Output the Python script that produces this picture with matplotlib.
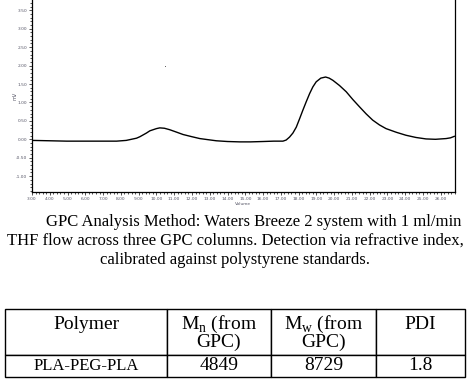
import matplotlib.pyplot as plt
from matplotlib.ticker import MultipleLocator, FormatStrFormatter

# chromatogram (minutes vs mV)
time = [3.0, 4.0, 4.95, 6.0, 7.0, 7.76, 8.3, 8.88, 9.07, 9.44, 9.63, 10.0, 10.19,
        10.45, 10.75, 11.1, 11.5, 12.0, 12.44, 12.9, 13.37, 14.0, 14.69, 15.3, 16.0,
        16.6, 17.12, 17.3, 17.49, 17.68, 17.87, 18.05, 18.24, 18.43, 18.62, 18.8,
        18.99, 19.25, 19.52, 19.72, 19.93, 20.3, 20.68, 21.05, 21.43, 21.8, 22.17,
        22.55, 22.92, 23.5, 24.04, 24.6, 25.17, 25.7, 26.3, 26.55, 26.76]
signal = [-0.03, -0.04, -0.05, -0.05, -0.05, -0.05, -0.03, 0.03, 0.07, 0.17, 0.23, 0.29, 0.31,
          0.30, 0.26, 0.2, 0.13, 0.07, 0.02, -0.01, -0.04, -0.06, -0.07, -0.07, -0.06,
          -0.05, -0.05, -0.02, 0.06, 0.17, 0.33, 0.55, 0.79, 1.02, 1.24, 1.42,
          1.56, 1.66, 1.69, 1.66, 1.60, 1.46, 1.29, 1.08, 0.88, 0.69, 0.52,
          0.39, 0.29, 0.19, 0.11, 0.05, 0.01, 0.0, 0.02, 0.04, 0.08]
stray_x = [10.5]
stray_y = [1.98]

caption = ["GPC Analysis Method: Waters Breeze 2 system with 1 ml/min",
           "THF flow across three GPC columns. Detection via refractive index,",
           "calibrated against polystyrene standards."]

col_labels = ["Polymer\n ", "M$_\\mathregular{n}$ (from\nGPC)", "M$_\\mathregular{w}$ (from\nGPC)", "PDI\n "]
polymer = "PLA-PEG-PLA"
mn = "4849"
mw = "8729"
pdi = "1.8"

plt.rcParams['mathtext.fontset'] = 'custom'
plt.rcParams['mathtext.rm'] = 'Liberation Serif'

fig = plt.figure(figsize=(4.7, 3.83), dpi=100)

# chart
ax = fig.add_axes([32/470, 1 - 192/383, (455-32)/470, 192/383])
ax.plot(time, signal, color='black', linewidth=1.0)
ax.plot(stray_x, stray_y, 's', color='#555555', markersize=0.6, markeredgewidth=0)
ax.set_xlim(3.0, 26.8)
ax.set_ylim(-1.43, 3.78)
ax.xaxis.set_major_locator(MultipleLocator(1.0))
ax.xaxis.set_minor_locator(MultipleLocator(0.2))
ax.yaxis.set_major_locator(MultipleLocator(0.5))
ax.yaxis.set_minor_locator(MultipleLocator(0.1))
ax.xaxis.set_major_formatter(FormatStrFormatter('%.2f'))
ax.yaxis.set_major_formatter(FormatStrFormatter('%.2f'))
ax.tick_params(which='both', direction='out', labelsize=3.2, labelcolor='#555566',
               width=0.6, color='#333333', pad=1)
ax.tick_params(which='major', length=2.5)
ax.tick_params(which='minor', length=1.5)
ax.spines['top'].set_visible(False)
for s in ['left', 'bottom', 'right']:
    ax.spines[s].set_linewidth(0.9)
ax.set_xlabel('Volume', fontsize=3.2, color='#555566', labelpad=1)
ax.set_ylabel('mV', fontsize=3.5, color='#555566', labelpad=-1)

# caption
serif = 'Liberation Serif'
fig.text(461/470, 1 - 222/383, caption[0], ha='right', va='center', fontsize=12, family=serif)
fig.text(235/470, 1 - 241/383, caption[1], ha='center', va='center', fontsize=12, family=serif)
fig.text(235/470, 1 - 260/383, caption[2], ha='center', va='center', fontsize=12, family=serif)

# table
tax = fig.add_axes([5/470, 1 - 377/383, 460/470, (377-309)/383])
tax.axis('off')
tbl = tax.table(cellText=[[polymer, mn, mw, pdi]], colLabels=col_labels,
                cellLoc='center', bbox=[0, 0, 1, 1])
tbl.auto_set_font_size(False)
widths = [162, 104, 105, 89]
for (r, c), cell in tbl.get_celld().items():
    cell.set_width(widths[c])
    cell.set_height(46 if r == 0 else 22)
    cell.set_linewidth(1.0)
    txt = cell.get_text()
    txt.set_family(serif)
    if r == 0:
        txt.set_fontsize(14)
        txt.set_linespacing(0.9)
    elif c == 0:
        txt.set_fontsize(12)
    else:
        txt.set_fontsize(14)

fig.savefig('out.png', dpi=100)
